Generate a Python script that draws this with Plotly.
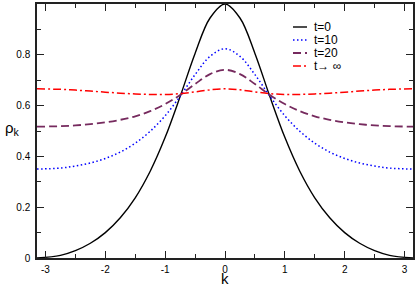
import plotly.graph_objects as go

# momentum grid (radians)
k = [-3.1416, -2.75, -2.5, -2.25, -2.0, -1.75, -1.5, -1.25, -1.0, -0.75, -0.5, -0.25, 0.0,
     0.25, 0.5, 0.75, 1.0, 1.25, 1.5, 1.75, 2.0, 2.25, 2.5, 2.75, 3.1416]

rho_t0 = [0.0, 0.0105, 0.029, 0.058, 0.100, 0.1585, 0.237, 0.3416, 0.475, 0.6355, 0.8055, 0.9448, 1.0,
          0.9448, 0.8055, 0.6355, 0.475, 0.3416, 0.237, 0.1585, 0.100, 0.058, 0.029, 0.0105, 0.0]
rho_t10 = [0.350, 0.354, 0.362, 0.374, 0.392, 0.417, 0.452, 0.499, 0.560, 0.637, 0.722, 0.794, 0.824,
           0.794, 0.722, 0.637, 0.560, 0.499, 0.452, 0.417, 0.392, 0.374, 0.362, 0.354, 0.350]
rho_t20 = [0.517, 0.519, 0.522, 0.527, 0.534, 0.544, 0.558, 0.578, 0.606, 0.642, 0.685, 0.724, 0.741,
           0.724, 0.685, 0.642, 0.606, 0.578, 0.558, 0.544, 0.534, 0.527, 0.522, 0.519, 0.517]
rho_inf = [0.666, 0.664, 0.661, 0.657, 0.653, 0.649, 0.646, 0.644, 0.644, 0.647, 0.654, 0.662, 0.666,
           0.662, 0.654, 0.647, 0.644, 0.644, 0.646, 0.649, 0.653, 0.657, 0.661, 0.664, 0.666]

series_names = ["t=0", "t=10", "t=20", "t\u2192 \u221e"]
series_values = [rho_t0, rho_t10, rho_t20, rho_inf]
series_colors = ["#000000", "#0000ff", "#762a5e", "#ff0000"]
series_dash = ["solid", "1.5px,2.5px", "8px,4px", "8px,3px,2px,3px"]
series_width = [1.4, 1.5, 1.8, 1.5]

x_tickvals = [-3, -2, -1, 0, 1, 2, 3]
x_ticktext = ["-3", "-2", "-1", "0", "1", "2", "3"]
y_tickvals = [0, 0.2, 0.4, 0.6, 0.8, 1.0]
y_ticktext = ["0", "0.2", "0.4", "0.6", "0.8", "1"]

FONT = "Liberation Sans, Arial, sans-serif"

fig = go.Figure()
for name, vals, col, dash, w in zip(series_names, series_values, series_colors, series_dash, series_width):
    fig.add_trace(go.Scatter(x=k, y=vals, mode="lines", name=name, showlegend=False,
                             line=dict(color=col, dash=dash, width=w, shape="spline", smoothing=1.0)))

# custom compact legend (paper coordinates)
L, R, T, B = 37, 2, 4, 28
W, H = 415, 286
pw, ph = W - L - R, H - T - B
shapes, annots = [], []
row_y = [27, 40, 53, 66]
for i, (name, col, dash, w) in enumerate(zip(series_names, series_colors, series_dash, series_width)):
    yp = 1 - (row_y[i] - T) / ph
    x0 = (293 - L) / pw
    x1 = (307 - L) / pw
    shapes.append(dict(type="line", xref="paper", yref="paper", x0=x0, x1=x1, y0=yp, y1=yp,
                       line=dict(color=col, dash=dash, width=w)))
    annots.append(dict(xref="paper", yref="paper", x=(312 - L) / pw, y=yp, text=name,
                       showarrow=False, xanchor="left", yanchor="middle",
                       font=dict(family=FONT, size=12, color="black")))

annots.append(dict(xref="paper", yref="paper", x=(12 - L) / pw, y=1 - (128 - T) / ph,
                   text="\u03c1<sub>k</sub>", showarrow=False, xanchor="center", yanchor="middle",
                   font=dict(family=FONT, size=15, color="black")))
annots.append(dict(xref="paper", yref="paper", x=(225 - L) / pw, y=1 - (278 - T) / ph,
                   text="k", showarrow=False, xanchor="center", yanchor="middle",
                   font=dict(family=FONT, size=15, color="black")))

axis_common = dict(showgrid=False, zeroline=False, showline=True, linecolor="#222", linewidth=1.5,
                   mirror="allticks", ticks="inside", ticklen=7, tickwidth=1.2, tickcolor="#222",
                   automargin=False,
                   tickfont=dict(family=FONT, size=10, color="black"))

fig.update_layout(
    width=W, height=H,
    margin=dict(l=L, r=R, t=T, b=B),
    paper_bgcolor="white", plot_bgcolor="white",
    xaxis=dict(range=[-3.1416, 3.1416], tickvals=x_tickvals, ticktext=x_ticktext,
               minor=dict(ticks="inside", ticklen=4, dtick=0.5, tick0=0, tickcolor="#222", tickwidth=1.2),
               ticklabelstandoff=1, **axis_common),
    yaxis=dict(range=[0, 1], tickvals=y_tickvals, ticktext=y_ticktext,
               minor=dict(ticks="inside", ticklen=4, dtick=0.1, tick0=0, tickcolor="#222", tickwidth=1.2),
               ticklabelstandoff=3, **axis_common),
    shapes=shapes, annotations=annots,
    showlegend=False,
)

fig.write_html("out.html", config={"displayModeBar": False},
               post_script="document.body.style.margin='0';document.body.style.overflow='hidden';")
